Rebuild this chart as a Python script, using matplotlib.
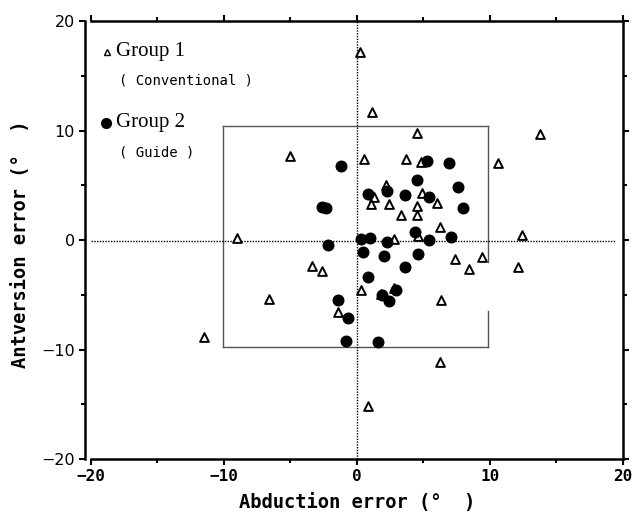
import matplotlib
matplotlib.use("Agg")
import matplotlib.pyplot as plt
import numpy as np

# group 1 (conventional) - open triangles
g1_x = [0.2, 1.1, 4.5, 13.8, -5.0, 0.5, 3.7, 4.85, 10.6, 2.2, 4.9, 1.3, 1.05, 2.4, 6.0,
        4.55, 3.3, 4.55, 6.25, 12.4, -9.0, 2.8, 4.6, 9.4, 7.4, -3.4, -2.6, 8.4, 12.1,
        0.3, 2.8, 1.8, 6.35, -6.6, -1.45, -11.5, 6.25, 0.85]
g1_y = [17.2, 11.7, 9.8, 9.7, 7.7, 7.4, 7.4, 7.1, 7.0, 5.0, 4.3, 3.9, 3.3, 3.25, 3.35,
        3.1, 2.3, 2.25, 1.2, 0.5, 0.15, 0.05, 0.4, -1.55, -1.75, -2.4, -2.85, -2.65, -2.5,
        -4.55, -4.35, -4.9, -5.45, -5.35, -6.6, -8.85, -11.1, -15.2]

# group 2 (guide) - filled dots
g2_x = [-1.2, 5.3, 6.9, 4.5, 7.6, 0.8, 2.25, 3.6, 5.45, -2.6, -2.3, 7.95, 4.4, 7.1, 0.3,
        0.95, 5.4, 2.3, -2.2, 0.45, 2.05, 4.6, 3.65, 0.85, 2.95, 1.9, 2.4, -1.45, -0.7,
        -0.85, 1.6]
g2_y = [6.8, 7.2, 7.0, 5.45, 4.8, 4.2, 4.45, 4.15, 3.9, 3.0, 2.9, 2.95, 0.7, 0.3, 0.05,
        0.2, 0.0, -0.2, -0.5, -1.1, -1.5, -1.25, -2.45, -3.35, -4.55, -5.0, -5.6, -5.45,
        -7.15, -9.25, -9.35]

ticks = [-20, -10, 0, 10, 20]
box = (-10.1, 9.85, -9.8, 10.4)

mono = "DejaVu Sans Mono"

fig = plt.figure(figsize=(6.33, 5.22), dpi=100)
ax = fig.add_axes([0.1438, 0.1207, 0.840, 0.839])

# target box (right edge has a gap in the original)
x0, x1, y0, y1 = box
ax.plot([x0, x1], [y1, y1], color="#555555", lw=1)
ax.plot([x0, x1], [y0, y0], color="#555555", lw=1)
ax.plot([x0, x0], [y0, y1], color="#555555", lw=1)
ax.plot([x1, x1], [y1, -2.0], color="#555555", lw=1)
ax.plot([x1, x1], [-6.5, y0], color="#555555", lw=1)

# zero lines
ax.plot([0, 0], [-20, 20], color="black", lw=1, ls=(0, (1, 1)))
ax.plot([-20, 19.5], [-0.1, -0.1], color="black", lw=1, ls=(0, (1, 1)))

ax.scatter(g1_x, g1_y, marker="^", s=40, facecolor="white", edgecolor="black", lw=1.4, zorder=3)
ax.scatter(g2_x, g2_y, marker="o", s=58, color="black", zorder=4)

# legend as text
ax.plot([-18.8], [17.15], marker="^", ms=5, mfc="white", mec="black", mew=1)
ax.text(-18.1, 17.2, "Group 1", family="Liberation Serif", fontsize=15, va="center")
ax.text(-17.9, 14.6, "( Conventional )", family=mono, fontsize=10, va="center")
ax.plot([-18.9], [10.7], marker="o", ms=7, color="black", ls="none")
ax.text(-18.1, 10.7, "Group 2", family="Liberation Serif", fontsize=15, va="center")
ax.text(-17.9, 8.0, "( Guide )", family=mono, fontsize=10, va="center")

ax.set_xlim(-20, 20)
ax.set_ylim(-20, 20)
ax.set_xticks(ticks)
ax.set_yticks(ticks)
ax.set_xticks(np.arange(-15, 20, 10), minor=True)
ax.set_yticks(np.arange(-15, 20, 10), minor=True)
ax.tick_params(axis="both", which="both", width=1.5, labelsize=11.5)
ax.tick_params(axis="both", which="major", length=4)
ax.tick_params(axis="both", which="minor", length=3)
ax.tick_params(top=True, right=True, which="both")
for lab in ax.get_xticklabels() + ax.get_yticklabels():
    lab.set_family(mono)
    lab.set_fontweight("bold")

for s in ax.spines.values():
    s.set_linewidth(1.8)
ax.spines["left"].set_position(("outward", 4))

ax.set_xlabel("Abduction error (°  )", family=mono, fontweight="bold", fontsize=13.5, labelpad=6)
ax.set_ylabel("Antversion error (°  )", family=mono, fontweight="bold", fontsize=13.5)
ax.yaxis.set_label_coords(-0.115, 0.49)

fig.savefig("out.png", dpi=100)
